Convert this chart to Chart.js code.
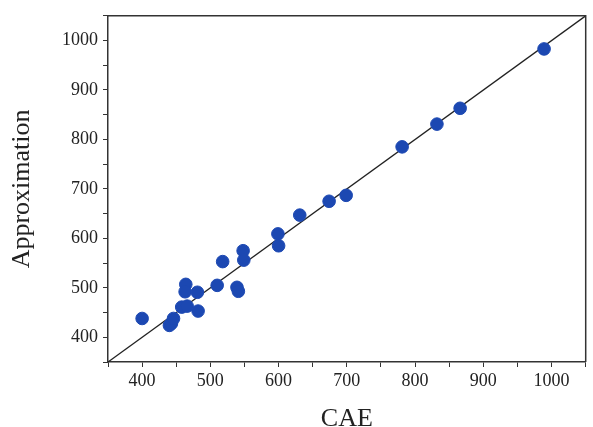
<!DOCTYPE html>
<html>
<head>
<meta charset="utf-8">
<script src="https://cdn.jsdelivr.net/npm/chart.js@4.4.1/dist/chart.umd.min.js"></script>
<style>
  html, body { margin: 0; padding: 0; background: #fff; }
  #wrap { width: 593px; height: 427px; }
</style>
</head>
<body>
<div id="wrap"><canvas id="fit"></canvas></div>
<script>
// ---- data ----
var cae    = [400, 440, 443, 446, 458, 466, 464, 463, 481, 482, 510, 518, 539, 541, 548, 549, 599, 600, 631, 674, 699, 781, 832, 866, 989];
var approx = [438, 424, 428, 438, 461, 463, 507, 492, 491, 453, 505, 553, 501, 493, 575, 556, 609, 585, 647, 675, 687, 785, 831, 863, 983];
var diag   = [350, 1050];   // y = x reference line
var tickLabels = [400, 500, 600, 700, 800, 900, 1000];

var points = cae.map(function (x, i) { return { x: x, y: approx[i] }; });
var line = diag.map(function (v) { return { x: v, y: v }; });

var serif = "'Liberation Serif', 'Times New Roman', serif";

function labelOnly(v) {
    return tickLabels.indexOf(v) >= 0 ? String(v) : '';
}

// draw the top and right frame lines
var frame = {
    id: 'frame',
    afterDraw: function (chart) {
        var a = chart.chartArea, c = chart.ctx;
        c.save();
        c.strokeStyle = '#333';
        c.lineWidth = 1.5;
        c.beginPath();
        c.moveTo(a.left, a.top);
        c.lineTo(a.right, a.top);
        c.lineTo(a.right, a.bottom);
        c.stroke();
        c.restore();
    }
};

var ctx = document.getElementById('fit').getContext('2d');
var chart = new Chart(ctx, {
    type: 'scatter',
    data: {
        datasets: [{
            label: 'y = x',
            type: 'line',
            data: line,
            borderColor: '#222',
            borderWidth: 1.3,
            pointRadius: 0,
            fill: false,
            order: 2
        }, {
            label: 'Approximation',
            data: points,
            backgroundColor: 'rgb(28, 72, 178)',
            borderColor: 'rgb(28, 72, 178)',
            pointRadius: 6.3,
            order: 1
        }]
    },
    options: {
        responsive: true,
        maintainAspectRatio: false,
        animation: false,
        layout: { padding: { top: 12, right: 7, left: 0, bottom: 0 } },
        plugins: { legend: { display: false }, tooltip: { enabled: false } },
        scales: {
            x: {
                type: 'linear',
                min: 350, max: 1050,
                afterFit: function (s) { s.height = 65; },
                ticks: { stepSize: 50, autoSkip: false, maxRotation: 0, callback: labelOnly,
                         color: '#222', font: { family: serif, size: 18 }, padding: 3 },
                grid: { drawOnChartArea: false, drawTicks: true, tickLength: 5, tickColor: '#333' },
                border: { color: '#333', width: 1.5 },
                title: { display: true, text: 'CAE', color: '#222',
                         font: { family: serif, size: 26 }, padding: { top: 19, bottom: -8 } }
            },
            y: {
                type: 'linear',
                min: 350, max: 1050,
                afterFit: function (s) { s.width = 108; },
                ticks: { stepSize: 50, autoSkip: false, callback: labelOnly,
                         color: '#222', font: { family: serif, size: 18 }, padding: 5 },
                grid: { drawOnChartArea: false, drawTicks: true, tickLength: 5, tickColor: '#333' },
                border: { color: '#333', width: 1.5 },
                title: { display: true, text: 'Approximation', color: '#222',
                         font: { family: serif, size: 26 }, padding: { top: 7, bottom: 0 } }
            }
        }
    },
    plugins: [frame]
});
</script>
</body>
</html>
